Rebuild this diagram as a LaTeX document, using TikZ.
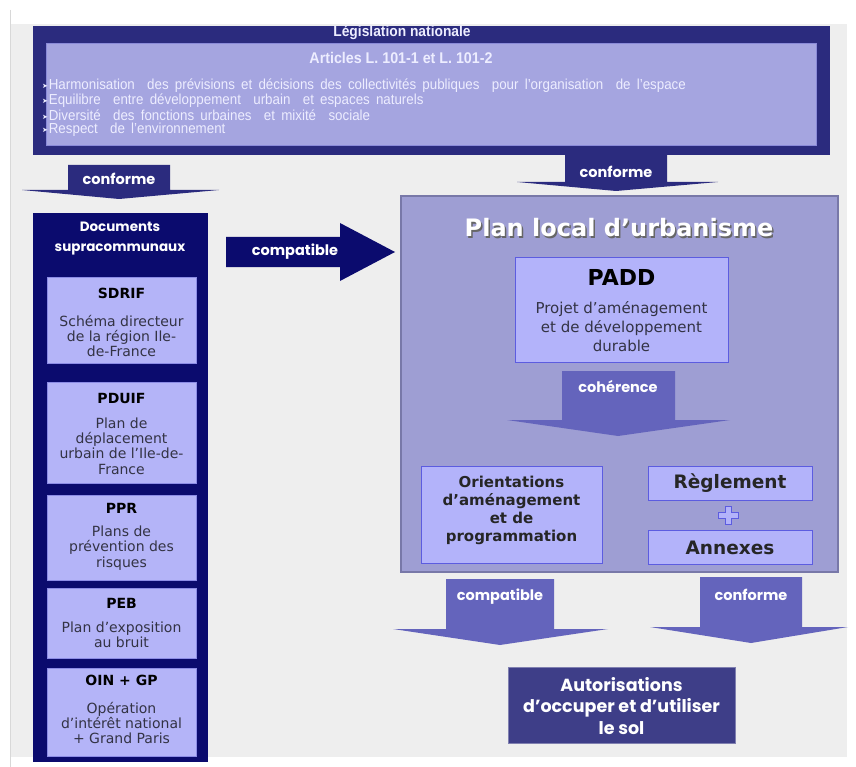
\documentclass[tikz,border=0pt]{standalone}
\usepackage{fontspec}
\setmainfont{DejaVu Sans}
\newfontfamily\geo{Poppins}
\newfontfamily\narrow{Liberation Sans}[FakeStretch=0.92]
\newfontfamily\dejavu{DejaVu Sans}
\definecolor{bg}{HTML}{EEEEEE}
\definecolor{topnavy}{HTML}{2B2B7E}
\definecolor{topin}{HTML}{A5A5E0}
\definecolor{topinline}{HTML}{8A8AD8}
\definecolor{navy}{HTML}{0B0B6E}
\definecolor{sub}{HTML}{B4B4F8}
\definecolor{subline}{HTML}{8C8CE6}
\definecolor{plu}{HTML}{9E9ED3}
\definecolor{pluline}{HTML}{7878A8}
\definecolor{inbox}{HTML}{B3B3FA}
\definecolor{inline}{HTML}{5C5CE0}
\definecolor{mid}{HTML}{6464BC}
\definecolor{aut}{HTML}{3E3E88}
\definecolor{autline}{HTML}{8080B0}
\definecolor{toptext}{HTML}{EDEDFF}
\definecolor{bodytext}{HTML}{333344}
\definecolor{edge}{HTML}{D8D8D8}
\newcommand\rbox[6]{\node[#6,minimum width={#4pt-#2pt},minimum height={#5pt-#3pt}] (#1) at ({(#2+#4)/2},{(#3+#5)/2}) {};}
\newcommand\arr{\raisebox{1pt}{\dejavu\fontsize{7}{8}\selectfont ➤}\kern1pt}
\newcommand\widesp{\spaceskip 6.2pt plus 1pt\relax}
\tikzset{
  boxbase/.style={rectangle,inner sep=0pt,outer sep=0pt},
  topouter/.style={boxbase,fill=topnavy},
  topinner/.style={boxbase,fill=topin,draw=topinline,line width=0.8pt},
  leftcol/.style={boxbase,fill=navy},
  subbox/.style={boxbase,fill=sub,draw=subline,line width=0.8pt},
  plubox/.style={boxbase,fill=plu,draw=pluline,line width=1.2pt},
  inbox/.style={boxbase,fill=inbox,draw=inline,line width=1pt},
  autbox/.style={boxbase,fill=aut,draw=autline,line width=0.8pt},
  txt/.style={inner sep=0pt,outer sep=0pt,align=center},
  geolabel/.style={txt,text=white,font={\geo\bfseries\fontsize{14.5}{16}\selectfont}},
  subtitle/.style={txt,text=black,font={\bfseries\fontsize{14}{16}\selectfont}},
  subbody/.style={txt,text=bodytext,font={\fontsize{14}{15.2}\selectfont}},
  bullet/.style={inner sep=0pt,outer sep=0pt,anchor=west,text=toptext,font={\narrow\fontsize{14.5}{15}\selectfont\widesp}},
}
\begin{document}
\begin{tikzpicture}[x=1pt,y=-1pt]
\useasboundingbox (0,0) rectangle (856,767);
\fill[white] (0,0) rectangle (856,767);
\fill[bg] (10,24) rectangle (847,757);
\draw[edge,line width=1pt] (10.5,10) -- (10.5,767);
% top box
\rbox{top}{33}{26}{830}{155}{topouter}
\rbox{topin}{46}{43}{816}{145}{topinner}
\begin{scope}
\clip (33,26) rectangle (830,155);
\node[txt,text=toptext,font={\narrow\bfseries\fontsize{15}{16}\selectfont}] (leg) at (402,33) {Législation nationale};
\end{scope}
\node[txt,text=toptext,font={\narrow\bfseries\fontsize{15.5}{16}\selectfont}] (art) at (401,58) {Articles L. 101-1 et L. 101-2};
\node[bullet] (b1) at (42,86) {\arr Harmonisation\ \ des prévisions et décisions des collectivités publiques\ \ pour l’organisation\ \ de l’espace};
\node[bullet] (b2) at (42,100.5) {\arr Equilibre\ \ entre développement\ \ urbain\ \ et espaces naturels};
\node[bullet] (b3) at (42,115) {\arr Diversité\ \ des fonctions urbaines\ \ et mixité\ \ sociale};
\node[bullet] (b4) at (42,129.5) {\arr Respect\ \ de l’environnement};
% conforme arrow left
\fill[topnavy] (68,165) -- (170,165) -- (170,190) -- (219,190) -- (119,199) -- (22,190) -- (68,190) -- cycle;
\node[geolabel] (conf1) at (119,179) {conforme};
% conforme arrow top right
\fill[topnavy] (565,155) -- (667,155) -- (667,182) -- (718,182) -- (616,191) -- (517,182) -- (565,182) -- cycle;
\node[geolabel] (conf2) at (616,172) {conforme};
% left column
\rbox{left}{33}{213}{208}{762}{leftcol}
\node[txt,text=white,font={\geo\bfseries\fontsize{13.5}{20}\selectfont}] (docs) at (120,239) {Documents\\supracommunaux};
\rbox{sdrif}{47}{277}{196}{363}{subbox}
\node[subtitle] (sdrift) at (121.5,293) {SDRIF};
\node[subbody] (sdrifb) at (121.5,336) {Schéma directeur\\de la région Ile-\\de-France};
\rbox{pduif}{47}{382}{196}{483}{subbox}
\node[subtitle] (pduift) at (121.5,398) {PDUIF};
\node[subbody] (pduifb) at (121.5,446) {Plan de\\déplacement\\urbain de l’Ile-de-\\France};
\rbox{ppr}{47}{495}{196}{580}{subbox}
\node[subtitle] (pprt) at (121.5,508) {PPR};
\node[subbody] (pprb) at (121.5,548) {Plans de\\prévention des\\risques};
\rbox{peb}{47}{588}{196}{658}{subbox}
\node[subtitle] (pebt) at (121.5,603) {PEB};
\node[subbody] (pebb) at (121.5,635) {Plan d’exposition\\au bruit};
\rbox{oin}{47}{668}{196}{756}{subbox}
\node[subtitle] (oint) at (121.5,680) {OIN + GP};
\node[subbody] (oinb) at (121.5,723) {Opération\\d’intérêt national\\+ Grand Paris};
% compatible arrow
\fill[navy] (226,237) -- (340,237) -- (340,223) -- (395,252) -- (340,281) -- (340,267) -- (226,267) -- cycle;
\node[geolabel] (comp1) at (295,252) {compatible};
% PLU
\rbox{plu}{401}{196}{838}{572}{plubox}
\node[txt,text=black!60,font={\bfseries\fontsize{24}{26}\selectfont}] (plutsh) at (620.5,229.5) {Plan local d’urbanisme};
\node[txt,text=white,font={\bfseries\fontsize{24}{26}\selectfont}] (plut) at (619,228) {Plan local d’urbanisme};
\rbox{padd}{515}{258}{728}{362}{inbox}
\node[txt,text=black,font={\bfseries\fontsize{22}{24}\selectfont}] (paddt) at (621.5,277) {PADD};
\node[txt,text=bodytext,font={\fontsize{15}{19}\selectfont}] (paddb) at (621.5,327) {Projet d’aménagement\\et de développement\\durable};
% coherence arrow
\fill[mid] (562,371) -- (675,371) -- (675,420) -- (730,420) -- (618,436) -- (507,420) -- (562,420) -- cycle;
\node[geolabel] (coh) at (618,387) {cohérence};
% lower boxes
\rbox{oap}{421}{466}{602}{563}{inbox}
\node[txt,text=black!85,font={\bfseries\fontsize{15}{18}\selectfont}] (oapt) at (511.5,510) {Orientations\\d’aménagement\\et de\\programmation};
\rbox{regl}{648}{466}{812}{500}{inbox}
\node[txt,text=black!85,font={\bfseries\fontsize{18.5}{20}\selectfont}] (reglt) at (730,483) {Règlement};
\fill[inbox,draw=inline,line width=0.8pt] (725,506) -- (731,506) -- (731,512) -- (738,512) -- (738,518) -- (731,518) -- (731,524) -- (725,524) -- (725,518) -- (718,518) -- (718,512) -- (725,512) -- cycle;
\rbox{annex}{648}{530}{812}{564}{inbox}
\node[txt,text=black!85,font={\bfseries\fontsize{18.5}{20}\selectfont}] (annext) at (730,548) {Annexes};
% bottom arrows
\fill[mid] (446,579) -- (554,579) -- (554,629) -- (608,629) -- (500,645) -- (393,629) -- (446,629) -- cycle;
\node[geolabel] (comp2) at (500,597) {compatible};
\fill[mid] (700,577) -- (802,577) -- (802,627) -- (848,627) -- (751,643) -- (650,627) -- (700,627) -- cycle;
\node[geolabel] (conf3) at (751,595) {conforme};
% autorisations
\rbox{aut}{508}{667}{735}{743}{autbox}
\node[txt,text=white,font={\geo\bfseries\fontsize{17.5}{21.5}\selectfont}] (autt) at (621.5,706) {Autorisations\\d’occuper et d’utiliser\\le sol};
\end{tikzpicture}
\end{document}
